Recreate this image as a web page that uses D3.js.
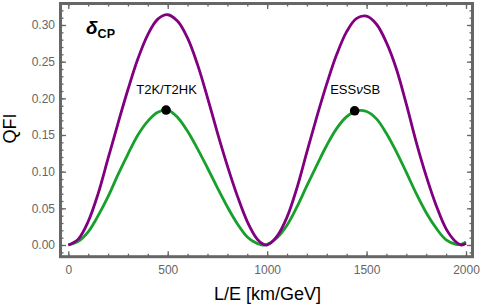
<!DOCTYPE html>
<html>
<head>
<meta charset="utf-8">
<script src="https://cdn.jsdelivr.net/npm/d3@7"></script>
<style>
  body { margin: 0; background: #fff; }
  svg { display: block; font-family: 'Liberation Sans', Arial, sans-serif; }
  .tick text { fill: #666; font-size: 12px; }
  .tick line { stroke: #666; stroke-width: 1.3; }
</style>
</head>
<body>
<div id="chart"></div>
<script>
// L/E grid (km/GeV) and the two QFI curves
const LE = [0, 50, 100, 150, 200, 250, 300, 350, 400, 450, 500, 550, 600, 650, 700, 750, 800, 850, 900, 950, 975,
  1000, 1050, 1100, 1150, 1200, 1250, 1300, 1350, 1400, 1450, 1500, 1550, 1600, 1650, 1700, 1750, 1800, 1850, 1900, 1950, 1975, 2000];
const qfiPurple = [0.000, 0.008, 0.032, 0.070, 0.118, 0.166, 0.212, 0.254, 0.287, 0.308, 0.314, 0.305, 0.282, 0.246, 0.201, 0.153, 0.108, 0.067, 0.032, 0.008, 0.002,
  0.000, 0.012, 0.038, 0.078, 0.127, 0.175, 0.220, 0.260, 0.291, 0.309, 0.312, 0.301, 0.276, 0.240, 0.192, 0.140, 0.094, 0.054, 0.022, 0.004, 0.000, 0.002];
const qfiGreen = [0.000, 0.005, 0.018, 0.040, 0.066, 0.096, 0.124, 0.150, 0.169, 0.181, 0.184, 0.174, 0.155, 0.131, 0.105, 0.078, 0.052, 0.029, 0.011, 0.002, 0.000,
  0.001, 0.010, 0.027, 0.052, 0.081, 0.109, 0.136, 0.159, 0.175, 0.183, 0.182, 0.172, 0.152, 0.127, 0.099, 0.070, 0.044, 0.023, 0.007, 0.001, 0.001, 0.004];

// Experiments marked on the lower curve
const expNames = ['T2K/T2HK', 'ESS\u03BDSB'];
const expLE = [491.7, 1440];
const expQFI = [0.184, 0.183];

// Tick values
const xMajor = [0, 500, 1000, 1500, 2000];
const xMinor = d3.range(0, 2001, 100);
const yMajor = [0, 0.05, 0.10, 0.15, 0.20, 0.25, 0.30];
const yMinor = d3.range(-0.01, 0.331, 0.01);

const W = 480;
const H = 306;
const FRAME = { LEFT: 60.5, RIGHT: 472.5, TOP: 3.5, BOTTOM: 256.7 };

const svg = d3.select('#chart')
  .append('svg')
  .attr('width', W)
  .attr('height', H);

const x = d3.scaleLinear().domain([0, 2000]).range([68.3, 466]);
const y = d3.scaleLinear().domain([0, 0.30]).range([245, 25]);

// Minor ticks first, then major ticks with labels
function addAxis(axis, tx, ty, labels) {
  const g = svg.append('g')
    .attr('transform', `translate(${tx}, ${ty})`)
    .call(axis);
  g.select('.domain').remove();
  if (!labels) g.selectAll('text').remove();
  return g;
}

addAxis(d3.axisBottom(x).tickValues(xMinor).tickSize(-3), 0, FRAME.BOTTOM, false);
addAxis(d3.axisTop(x).tickValues(xMinor).tickSize(-3), 0, FRAME.TOP, false);
addAxis(d3.axisBottom(x).tickValues(xMajor).tickSize(-5.5).tickPadding(8.5).tickFormat(d3.format('d')), 0, FRAME.BOTTOM, true);
addAxis(d3.axisTop(x).tickValues(xMajor).tickSize(-5.5), 0, FRAME.TOP, false);

const yMinorIn = yMinor.filter(v => y(v) > FRAME.TOP + 2 && y(v) < FRAME.BOTTOM - 2);
addAxis(d3.axisLeft(y).tickValues(yMinorIn).tickSize(-3), FRAME.LEFT, 0, false);
addAxis(d3.axisRight(y).tickValues(yMinorIn).tickSize(-3), FRAME.RIGHT, 0, false);
addAxis(d3.axisLeft(y).tickValues(yMajor).tickSize(-5.5).tickPadding(5.5).tickFormat(d3.format('.2f')), FRAME.LEFT, 0, true);
addAxis(d3.axisRight(y).tickValues(yMajor).tickSize(-5.5), FRAME.RIGHT, 0, false);

// Frame
svg.append('rect')
  .attr('x', FRAME.LEFT)
  .attr('y', FRAME.TOP)
  .attr('width', FRAME.RIGHT - FRAME.LEFT)
  .attr('height', FRAME.BOTTOM - FRAME.TOP)
  .attr('fill', 'none')
  .attr('stroke', '#666')
  .attr('stroke-width', 3);

// Curves
const curveData = [
  { values: qfiGreen, color: '#17a02b' },
  { values: qfiPurple, color: '#800080' }
];
const line = d3.line()
  .x(d => x(d[0]))
  .y(d => y(d[1]))
  .curve(d3.curveCatmullRom.alpha(0.5));

curveData.forEach(function(c) {
  svg.append('path')
    .datum(LE.map((v, i) => [v, c.values[i]]))
    .attr('fill', 'none')
    .attr('stroke', c.color)
    .attr('stroke-width', 2.8)
    .attr('stroke-linejoin', 'round')
    .attr('d', line);
});

// Experiment markers
expNames.forEach(function(name, i) {
  svg.append('circle')
    .attr('cx', x(expLE[i]))
    .attr('cy', y(expQFI[i]))
    .attr('r', 4.8)
    .attr('fill', '#000');

  const t = svg.append('text')
    .attr('x', x(expLE[i]) + 0.5)
    .attr('y', y(expQFI[i]) - 16.5)
    .attr('text-anchor', 'middle')
    .style('font-size', '13px')
    .style('fill', '#000');
  // Greek nu is set in italics
  name.split(/(\u03BD)/).forEach(function(part) {
    if (!part) return;
    t.append('tspan')
      .style('font-style', part === '\u03BD' ? 'italic' : 'normal')
      .text(part);
  });
});

// delta_CP label
const dl = svg.append('text')
  .attr('x', 86)
  .attr('y', 33.5)
  .style('font-weight', 'bold')
  .style('fill', '#000');
dl.append('tspan')
  .style('font-size', '19px')
  .style('font-style', 'italic')
  .text('\u03B4');
dl.append('tspan')
  .attr('dy', 4)
  .style('font-size', '12.5px')
  .text('CP');

// Axis titles
svg.append('text')
  .attr('x', 267.5)
  .attr('y', 300)
  .attr('text-anchor', 'middle')
  .style('font-size', '18px')
  .style('fill', '#000')
  .text('L/E [km/GeV]');

svg.append('text')
  .attr('transform', 'translate(16, 128.5) rotate(-90)')
  .attr('text-anchor', 'middle')
  .style('font-size', '18px')
  .style('fill', '#000')
  .text('QFI');
</script>
</body>
</html>
